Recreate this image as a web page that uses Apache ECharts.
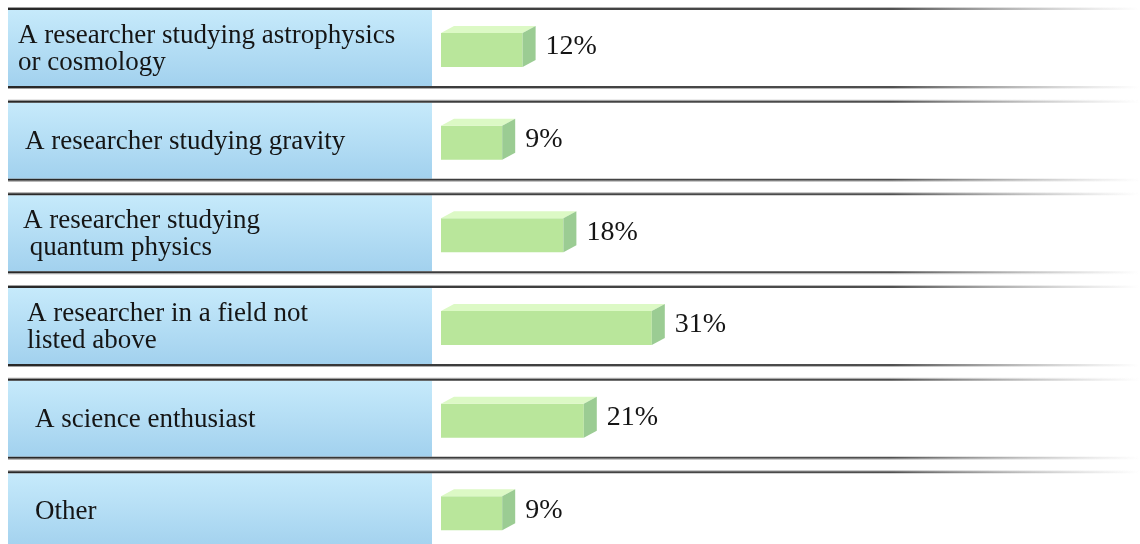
<!DOCTYPE html>
<html>
<head>
<meta charset="utf-8">
<script src="https://cdn.jsdelivr.net/npm/echarts@6.0.0/dist/echarts.min.js"></script>
<style>
  html, body { margin: 0; padding: 0; background: #fff; }
  #main { width: 1140px; height: 544px; }
</style>
</head>
<body>
<div id="main"></div>
<script>
// categories (multi-line labels as in the original)
var categories = [
    'A researcher studying astrophysics\nor cosmology',
    'A researcher studying gravity',
    'A researcher studying\n quantum physics',
    'A researcher in a field not\nlisted above',
    'A science enthusiast',
    'Other'
];
// share of respondents, %
var shares = [12, 9, 18, 31, 21, 9];

// small left indent of each label, px
var labelIndent = [10, 17, 15, 19, 27, 27];

var FONT = '"Liberation Serif", "DejaVu Serif", serif';
var PANEL_LEFT = 8;
var PANEL_RIGHT = 432;
var LINE_RIGHT = 1140;

var chart = echarts.init(document.getElementById('main'));

function lineGradient() {
    return new echarts.graphic.LinearGradient(0, 0, 1, 0, [
        { offset: 0, color: 'rgba(40,40,40,1)' },
        { offset: 0.78, color: 'rgba(70,70,70,0.95)' },
        { offset: 1, color: 'rgba(150,150,150,0)' }
    ]);
}

function softGradient() {
    return new echarts.graphic.LinearGradient(0, 0, 1, 0, [
        { offset: 0, color: 'rgba(150,150,150,0.9)' },
        { offset: 0.78, color: 'rgba(170,170,170,0.8)' },
        { offset: 1, color: 'rgba(210,210,210,0)' }
    ]);
}

// label panel + separator lines for one row
function renderRow(params, api) {
    var idx = api.value(0);
    var center = api.coord([0, idx])[1];
    var band = api.size([0, 1])[1];
    var top = center - band / 2;
    var w = LINE_RIGHT - PANEL_LEFT;
    return {
        type: 'group',
        children: [
            {
                type: 'rect',
                shape: { x: PANEL_LEFT, y: top + 2, width: PANEL_RIGHT - PANEL_LEFT, height: 76 },
                style: {
                    fill: new echarts.graphic.LinearGradient(0, 0, 0, 1, [
                        { offset: 0, color: '#c6eafb' },
                        { offset: 1, color: '#a2d1ee' }
                    ])
                }
            },
            { type: 'rect', shape: { x: PANEL_LEFT, y: top - 1, width: w, height: 1 }, style: { fill: softGradient() } },
            { type: 'rect', shape: { x: PANEL_LEFT, y: top, width: w, height: 2 }, style: { fill: lineGradient() } },
            { type: 'rect', shape: { x: PANEL_LEFT, y: top + 78, width: w, height: 2 }, style: { fill: lineGradient() } },
            { type: 'rect', shape: { x: PANEL_LEFT, y: top + 80, width: w, height: 1 }, style: { fill: softGradient() } },
            {
                type: 'text',
                style: {
                    x: PANEL_LEFT + labelIndent[idx],
                    y: top + 41,
                    text: categories[idx],
                    fill: '#151515',
                    font: '27px ' + FONT,
                    lineHeight: 27,
                    verticalAlign: 'middle',
                    align: 'left'
                }
            }
        ]
    };
}

// 3D-looking bar
function renderBar(params, api) {
    var idx = api.value(1);
    var start = api.coord([0, idx]);
    var end = api.coord([api.value(0), idx]);
    var band = api.size([0, 1])[1];
    var top = start[1] - band / 2;
    var x0 = start[0], x1 = end[0];
    var y0 = top + 25, y1 = top + 59;
    var dx = 13, dy = 7;
    return {
        type: 'group',
        children: [
            { type: 'rect', shape: { x: x0, y: y0, width: x1 - x0, height: y1 - y0 }, style: { fill: '#b9e69b' } },
            {
                type: 'polygon',
                shape: { points: [[x0, y0], [x0 + dx, y0 - dy], [x1 + dx, y0 - dy], [x1, y0]] },
                style: { fill: '#dcf9c5' }
            },
            {
                type: 'polygon',
                shape: { points: [[x1, y0], [x1 + dx, y0 - dy], [x1 + dx, y1 - dy], [x1, y1]] },
                style: { fill: '#9bcc93' }
            },
            {
                type: 'text',
                style: {
                    x: x1 + dx + 10,
                    y: (y0 + y1) / 2 - 3,
                    text: api.value(0) + '%',
                    fill: '#151515',
                    font: '28px ' + FONT,
                    verticalAlign: 'middle',
                    align: 'left'
                }
            }
        ]
    };
}

var option = {
    animation: false,
    grid: {
        left: 441,
        top: 8,
        width: 680,
        height: 556,
        outerBoundsMode: 'none'
    },
    xAxis: {
        type: 'value',
        min: 0,
        max: 100,
        show: false
    },
    yAxis: {
        type: 'category',
        data: categories,
        inverse: true,
        show: false
    },
    series: [
        {
            type: 'custom',
            renderItem: renderRow,
            clip: false,
            data: categories.map(function (c, i) { return [i]; }),
            z: 1
        },
        {
            type: 'custom',
            renderItem: renderBar,
            clip: false,
            encode: { x: 0, y: 1 },
            data: shares.map(function (v, i) { return [v, i]; }),
            z: 2
        }
    ]
};

chart.setOption(option);
</script>
</body>
</html>
